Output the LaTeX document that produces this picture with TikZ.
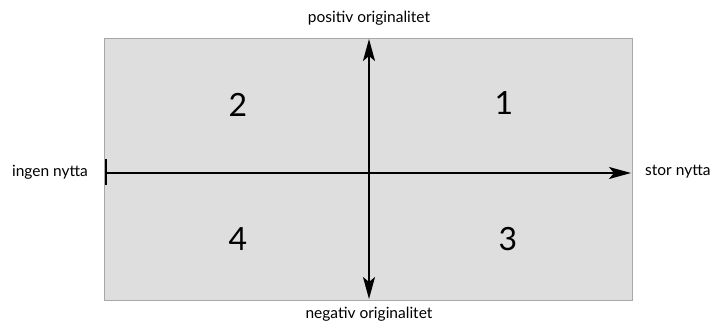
\documentclass[tikz,border=0pt]{standalone}
\usepackage{fontspec}
\setmainfont{Lato}
\usetikzlibrary{arrows.meta}
\definecolor{panel}{HTML}{DEDEDE}
\definecolor{panelEdge}{HTML}{A8A8A8}
\tikzset{
  axis/.style={line width=2pt, -{Stealth[length=22pt,width=12pt,inset=5pt]}},
  axislabel/.style={font=\fontsize{15.5}{18}\selectfont, inner sep=0pt},
  quadnum/.style={font=\fontsize{32}{36}\selectfont, inner sep=0pt},
}
\begin{document}
\begin{tikzpicture}[x=1pt,y=-1pt]
  \useasboundingbox (0,0) rectangle (721,324);
  % background panel
  \draw[fill=panel, draw=panelEdge, line width=1pt] (104,38) rectangle (632,300);
  % axis ends
  \coordinate (left) at (106,173);
  \coordinate (right) at (631,173);
  \coordinate (top) at (369,39);
  \coordinate (bottom) at (369,299);
  \coordinate (center) at (369,173);
  % axes
  \draw[axis] (left) -- (right);
  \draw[axis] (center) -- (top);
  \draw[axis] (center) -- (bottom);
  \draw[line width=2.5pt] (106,159) -- (106,185);
  % axis labels
  \node[axislabel] (noUse) at (50,172) {ingen nytta};
  \node[axislabel, anchor=west] (bigUse) at (645,172) {stor nytta};
  \node[axislabel] (posOrig) at (369,18) {positiv originalitet};
  \node[axislabel, anchor=base] (negOrig) at (369,318) {negativ originalitet};
  % quadrant numbers
  \node[quadnum] (q2) at (238,105) {2};
  \node[quadnum] (q1) at (504,103) {1};
  \node[quadnum] (q4) at (238,239) {4};
  \node[quadnum] (q3) at (508,239) {3};
\end{tikzpicture}
\end{document}
